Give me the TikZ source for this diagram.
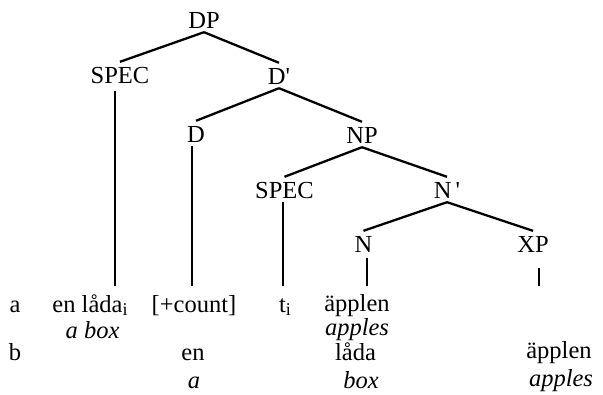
\documentclass[tikz,border=0pt]{standalone}
\usepackage{fontspec}
\setmainfont{Liberation Serif}
\newcommand{\subi}{\raisebox{-0.35ex}{\fontsize{18}{18}\selectfont i}}
\newcommand{\apos}{\textquotesingle}
\begin{document}
\begin{tikzpicture}[x=1pt,y=-1pt,
  every node/.style={font=\fontsize{24.5}{28}\selectfont},
  cat/.style={anchor=base,inner xsep=0pt,inner ysep=4pt,text height=17pt,text depth=0pt},
  leaf/.style={anchor=base,inner sep=0pt},
  branch/.style={line width=2.3pt},
  stem/.style={line width=2.1pt}]
\useasboundingbox (0,0) rectangle (603,394);
% categories
\node[cat] (DP) at (204,28) {DP};
\node[cat] (SPECa) at (120,83) {SPEC};
\node[cat] (Dbar) at (279,84) {D\apos};
\node[cat] (D) at (196,142) {D};
\node[cat] (NP) at (362,143) {NP};
\node[cat] (SPECb) at (284.5,198) {SPEC};
\node[cat] (Nbar) at (447,198) {N\,\apos};
\node[cat] (N) at (363.5,252) {N};
\node[cat] (XP) at (533,252) {XP};
% branches
\draw[branch] (DP.south) -- (SPECa.north);
\draw[branch] (DP.south) -- (Dbar.north);
\draw[branch] (Dbar.south) -- (D.north);
\draw[branch] (Dbar.south) -- (NP.north);
\draw[branch] (NP.south) -- (SPECb.north);
\draw[branch] (NP.south) -- (Nbar.north);
\draw[branch] (Nbar.south) -- (N.north);
\draw[branch] (Nbar.south) -- (XP.north);
% leaves row a
\coordinate (bot) at (0,286);
\node[leaf] (la) at (15,312) {a};
\node[leaf] (lada) at (90,312) {en låda\subi};
\node[leaf] (count) at (194,312) {[+count]};
\node[leaf] (trace) at (285,312) {t\subi};
\node[leaf] (applen) at (357,311) {äpplen};
\node[leaf] (abox) at (92.5,338) {\itshape a box};
\node[leaf] (apples) at (357,335.5) {\itshape apples};
% row b
\node[leaf] (lb) at (15,360) {b};
\node[leaf] (en) at (193,360) {en};
\node[leaf] (lada2) at (355.5,360) {låda};
\node[leaf] (applen2) at (559,358) {äpplen};
\node[leaf] (aa) at (194,388) {\itshape a};
\node[leaf] (box) at (361,388) {\itshape box};
\node[leaf] (apples2) at (561,386.5) {\itshape apples};
% stems
\draw[stem] ([xshift=-5pt,yshift=-4pt]SPECa.south) -- ([xshift=-5pt]SPECa.south |- bot);
\draw[stem] ([xshift=-4pt]D.south) -- ([xshift=-4pt]D.south |- bot);
\draw[stem] ([xshift=-1.5pt]SPECb.south) -- ([xshift=-1.5pt]SPECb.south |- bot);
\draw[stem] ([xshift=3.5pt,yshift=-2pt]N.south) -- ([xshift=3.5pt]N.south |- bot);
\coordinate (xpend) at ([xshift=6pt]XP.south |- bot);
\draw[stem] ([xshift=6pt,yshift=-12pt]XP.south) -- (xpend);
\end{tikzpicture}
\end{document}
